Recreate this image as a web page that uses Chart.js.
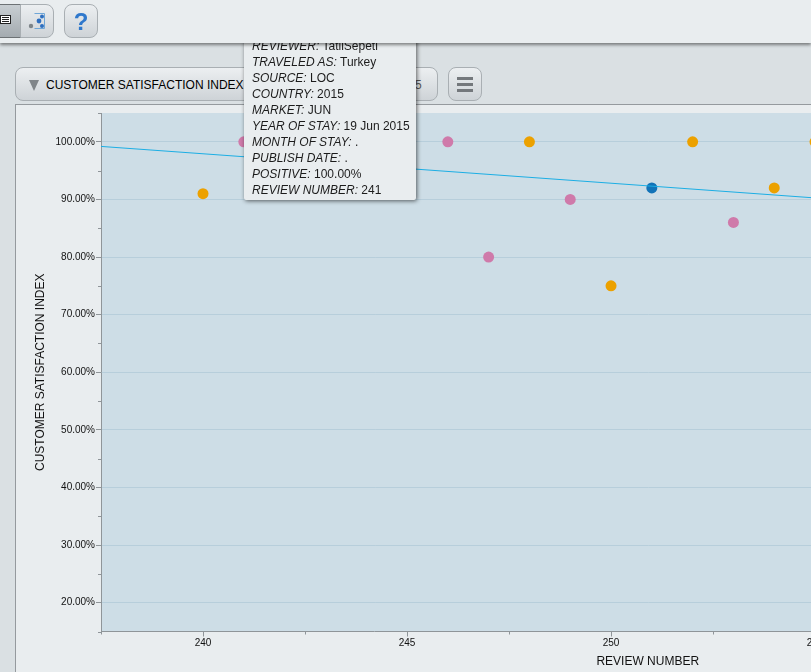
<!DOCTYPE html>
<html>
<head>
<meta charset="utf-8">
<title>Customer Satisfaction Index</title>
<script src="https://cdn.jsdelivr.net/npm/chart.js@4"></script>
<style>
  html, body { margin: 0; width: 811px; height: 672px; overflow: hidden; background: #dae0e3; font-family: "Liberation Sans", Arial, sans-serif; }
  .toolbar { position: absolute; left: 0; top: 0; width: 811px; height: 43px; background: #e9edef; box-shadow: 0 2px 3px rgba(0,0,0,.45); z-index: 5; }
  .btn { position: absolute; box-sizing: border-box; border: 1px solid #a9afb3; border-radius: 8px; background: linear-gradient(#eceff1, #ced3d7); }
  .panel { position: absolute; left: 15px; top: 104px; width: 796px; height: 568px; box-sizing: border-box; background: #e9edef; border: 1px solid #959a9e; border-right: 0; border-bottom: 0; }
  canvas { position: absolute; left: 16px; top: 105px; }
  .selector { left: 15px; top: 67px; width: 423px; height: 34px; font-size: 12px; line-height: 34px; color: #000; }
  .selector span { position: absolute; left: 30px; }
  .selector i { position: absolute; left: 13px; top: 12px; border-left: 5.5px solid transparent; border-right: 5.5px solid transparent; border-top: 11px solid #808589; }
  .selector b { position: absolute; left: 399px; font-weight: normal; color: #555; }
  .bars { position: absolute; left: 8px; top: 9px; width: 16px; height: 3px; background: #74787c; box-shadow: 0 6px 0 #74787c, 0 12px 0 #74787c; }
  .tooltip { position: absolute; left: 244px; top: 30px; width: 172px; height: 170px; box-sizing: border-box; padding: 8px 8px 0; background: #e9edef; box-shadow: 1px 1px 4px rgba(0,0,0,.6); border-radius: 2px; font-size: 12px; line-height: 16px; color: #1c1c1c; z-index: 3; white-space: nowrap; }
  .tooltip em { font-style: italic; }
</style>
</head>
<body>
<div class="toolbar">
  <div class="btn" style="left:-14px;top:4px;width:35px;height:34px;background:linear-gradient(#c8ced2,#a4abb0);border-color:#6d7275;border-radius:0"></div>
  <svg style="position:absolute;left:0;top:15px" width="11" height="9"><rect x="0.5" y="0.5" width="10" height="8" fill="#fff" stroke="#222"/><path d="M2 2.5H9M2 4.5H9M2 6.5H9" stroke="#222"/></svg>
  <div class="btn" style="left:20px;top:4px;width:34px;height:34px;border-radius:0 8px 8px 0"></div>
  <svg style="position:absolute;left:28px;top:12px" width="18" height="18"><path d="M6.5 1.5H16.5V16.5H6.5" fill="none" stroke="#6fa6d6"/><circle cx="11" cy="9" r="2.4" fill="#2e6fc0"/><circle cx="14" cy="4.5" r="2" fill="#2e6fc0"/><circle cx="14" cy="14" r="2" fill="#2e6fc0"/><circle cx="3" cy="14" r="2.2" fill="#7d8488"/></svg>
  <div class="btn" style="left:64px;top:4px;width:34px;height:34px;text-align:center;font-size:24px;font-weight:bold;line-height:34px;color:#2f78cc">?</div>
</div>

<div class="btn selector"><i></i><span>CUSTOMER SATISFACTION INDEX</span><b>5</b></div>
<div class="btn" style="left:448px;top:67px;width:34px;height:34px"><div class="bars"></div></div>

<div class="panel"></div>
<canvas id="chart" width="1184" height="567"></canvas>

<div class="tooltip">
  <div><em>REVIEWER:</em> TatliSepeti</div>
  <div><em>TRAVELED AS:</em> Turkey</div>
  <div><em>SOURCE:</em> LOC</div>
  <div><em>COUNTRY:</em> 2015</div>
  <div><em>MARKET:</em> JUN</div>
  <div><em>YEAR OF STAY:</em> 19 Jun 2015</div>
  <div><em>MONTH OF STAY:</em> .</div>
  <div><em>PUBLISH DATE:</em> .</div>
  <div><em>POSITIVE:</em> 100.00%</div>
  <div><em>REVIEW NUMBER:</em> 241</div>
</div>

<script>
const orangeReviews = [240, 248, 250, 252, 254, 255];
const orangeValues = [91, 100, 75, 100, 92, 100];
const pinkReviews = [241, 246, 247, 249, 253];
const pinkValues = [100, 100, 80, 90, 86];
const blueReviews = [251];
const blueValues = [92];
const trendReviews = [237.5, 264.3];
const trendValues = [99.2, 85.5];

const pairs = (xs, ys) => xs.map((x, i) => ({ x, y: ys[i] }));
const dots = (xs, ys, colour) => ({
  type: 'scatter',
  data: pairs(xs, ys),
  backgroundColor: colour,
  borderWidth: 0,
  pointRadius: 5.5,
  order: 2
});
const axisColour = '#8f9599';
const isMajorX = (v) => v % 5 === 0;
const isMajorY = (v) => v % 10 === 0;

new Chart(document.getElementById('chart'), {
  data: {
    datasets: [
      {
        type: 'line',
        data: pairs(trendReviews, trendValues),
        borderColor: '#1caee4',
        borderWidth: 1,
        pointRadius: 0,
        order: 1
      },
      dots(orangeReviews, orangeValues, '#eca100'),
      dots(pinkReviews, pinkValues, '#cf7aaa'),
      dots(blueReviews, blueValues, '#1273b8')
    ]
  },
  options: {
    responsive: false,
    animation: false,
    layout: { padding: { top: 8, right: 0, left: 0, bottom: 0 } },
    plugins: { legend: { display: false }, tooltip: { enabled: false } },
    scales: {
      x: {
        type: 'linear',
        min: 237.5,
        max: 264.3,
        afterFit: (s) => { s.height = 40.5; },
        grid: {
          drawOnChartArea: false,
          tickLength: 5,
          tickColor: (c) => (isMajorX(c.tick.value) ? axisColour : 'rgba(0,0,0,0)')
        },
        border: { color: axisColour },
        ticks: {
          stepSize: 2.5,
          autoSkip: false,
          maxRotation: 0,
          padding: 1,
          color: '#111',
          font: { family: 'Liberation Sans', size: 10 },
          callback: (v) => (isMajorX(v) ? String(v) : '')
        },
        title: {
          display: true,
          text: 'REVIEW NUMBER',
          color: '#111',
          font: { family: 'Liberation Sans', size: 12 },
          padding: { top: 0, bottom: 3 }
        }
      },
      y: {
        min: 15,
        max: 105,
        afterFit: (s) => { s.width = 85; },
        grid: {
          color: (c) => (isMajorY(c.tick.value) ? '#b7cedb' : 'rgba(0,0,0,0)'),
          tickColor: (c) => (isMajorY(c.tick.value) ? axisColour : 'rgba(0,0,0,0)'),
          tickLength: 5
        },
        border: { color: axisColour },
        ticks: {
          stepSize: 5,
          autoSkip: false,
          padding: 1,
          color: '#111',
          font: { family: 'Liberation Sans', size: 10 },
          callback: (v) => (isMajorY(v) ? v.toFixed(2) + '%' : '')
        },
        title: {
          display: true,
          text: 'CUSTOMER SATISFACTION INDEX',
          color: '#111',
          font: { family: 'Liberation Sans', size: 12 },
          padding: { top: 17, bottom: 0 }
        }
      }
    }
  },
  plugins: [{
    id: 'plotBackground',
    beforeDraw(chart) {
      const { ctx, chartArea: a } = chart;
      ctx.save();
      ctx.fillStyle = '#cddde6';
      ctx.fillRect(a.left, a.top, a.width, a.height);
      ctx.restore();
    },
    // minor ticks are shorter than the labelled ones
    afterDraw(chart) {
      const { ctx, chartArea: a, scales } = chart;
      ctx.save();
      ctx.strokeStyle = axisColour;
      ctx.lineWidth = 1;
      ctx.beginPath();
      scales.x.ticks.filter((t) => !isMajorX(t.value)).forEach((t) => {
        const px = Math.round(scales.x.getPixelForValue(t.value)) + 0.5;
        ctx.moveTo(px, a.bottom);
        ctx.lineTo(px, a.bottom + 3);
      });
      scales.y.ticks.filter((t) => !isMajorY(t.value)).forEach((t) => {
        const py = Math.round(scales.y.getPixelForValue(t.value)) + 0.5;
        ctx.moveTo(a.left, py);
        ctx.lineTo(a.left - 3, py);
      });
      ctx.stroke();
      ctx.restore();
    }
  }]
});
</script>
</body>
</html>
